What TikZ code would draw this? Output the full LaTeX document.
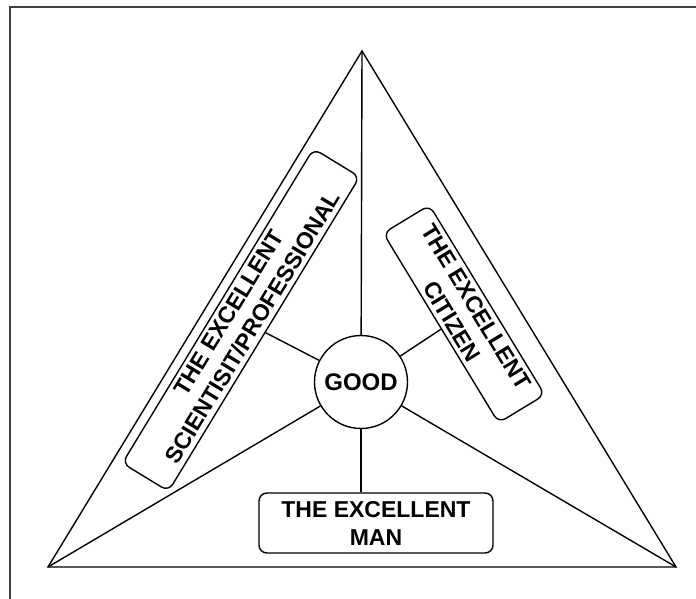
\documentclass[tikz,border=0pt]{standalone}
\usepackage{fontspec}
\setmainfont{Liberation Sans}
\begin{document}
\begin{tikzpicture}[x=1pt,y=-1pt, line width=1.4pt,
  lbl/.style={font=\fontsize{23}{28}\selectfont\bfseries, align=center},
  box/.style={draw, rounded corners=8pt, lbl, inner sep=0pt}]
\useasboundingbox (0,0) rectangle (696,599);
\draw[black!75, line width=1.6pt] (10,599) -- (10,7) -- (696,7);
\coordinate (apex) at (362,51);
\coordinate (bl) at (48,567);
\coordinate (br) at (676,567);
\draw (apex) -- (bl) -- (br) -- cycle;
\node[circle, draw, minimum size=93pt, inner sep=0pt, font=\fontsize{24}{28}\selectfont\bfseries] (good) at (361,382) {GOOD};
\node[box, minimum width=234pt, minimum height=60pt] (man) at (376,523) {THE EXCELLENT\\MAN};
\node[box, rotate=58.7, minimum width=368pt, minimum height=54pt] (sci) at (241,320) {THE EXCELLENT\\SCIENTISIT/PROFESSIONAL};
\node[box, rotate=-58.7, minimum width=222pt, minimum height=54pt] (cit) at (464,314) {THE EXCELLENT\\CITIZEN};
\draw (good) -- (apex);
\draw (good) -- (bl);
\draw (good) -- (br);
\draw (good.south) -- (good.south |- man.north);
\draw (good) -- (sci);
\draw (good) -- (cit);
\end{tikzpicture}
\end{document}
